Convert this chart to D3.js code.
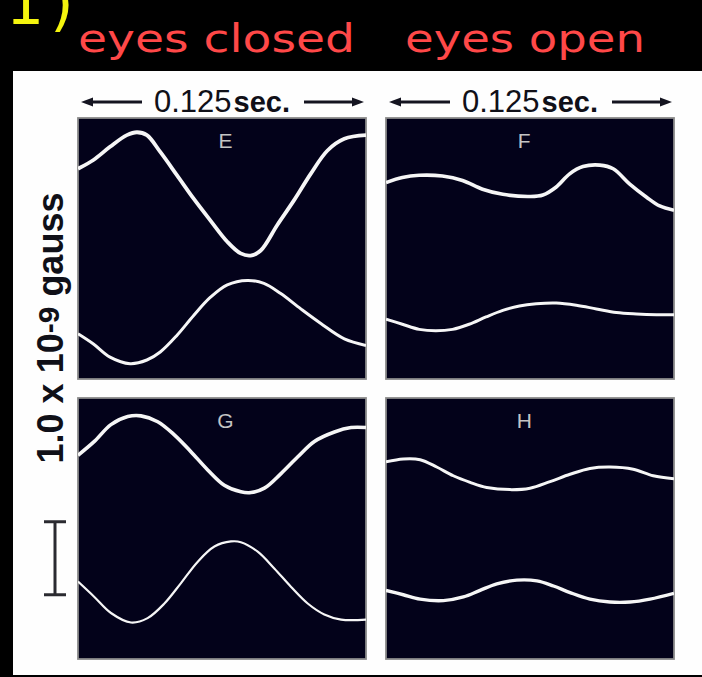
<!DOCTYPE html>
<html>
<head>
<meta charset="utf-8">
<script src="https://cdn.jsdelivr.net/npm/d3@7"></script>
<style>
  html, body { margin: 0; padding: 0; background: #000; }
  svg { display: block; }
</style>
</head>
<body>
<svg id="chart" width="702" height="677"></svg>
<script>
// Magnetoencephalogram sweeps: field in units of 1.0 x 10^-9 gauss, time in ms (one sweep = 125 ms)
const conditions = ["eyes closed", "eyes open"];
const panelLetters = ["E", "F", "G", "H"];
const sweepValue = "0.125";
const sweepUnit = "sec.";
const axisLabel = ["1.0 x 10", "-9", " gauss"];
const figTag = "1)";

// [time ms, field] pairs, two traces per panel
const traceE1 = [[0,2.88],[6.7,3.00],[13.9,3.18],[21.2,3.34],[25.6,3.38],[29.9,3.34],[35.7,3.11],[43.0,2.79],[50.2,2.47],[57.5,2.17],[64.8,1.88],[70.6,1.72],[74.9,1.69],[79.3,1.76],[86.5,2.11],[93.8,2.45],[101.0,2.81],[108.3,3.13],[115.6,3.29],[125,3.34]];
const traceE2 = [[0,0.62],[6.7,0.48],[13.9,0.30],[22.6,0.21],[29.9,0.26],[35.7,0.37],[43.0,0.60],[50.2,0.87],[57.5,1.12],[64.8,1.29],[73.5,1.35],[80.7,1.31],[88.0,1.17],[96.7,0.96],[105.4,0.76],[115.6,0.55],[125,0.46]];
const traceF1 = [[0,2.69],[7.1,2.76],[14.4,2.79],[24.5,2.78],[33.2,2.72],[41.9,2.60],[50.7,2.53],[62.3,2.50],[68.1,2.52],[73.9,2.63],[79.7,2.81],[85.5,2.91],[92.8,2.93],[98.6,2.88],[105.8,2.67],[113.1,2.49],[118.8,2.37],[125,2.31]];
const traceF2 = [[0,0.82],[7.1,0.75],[14.4,0.68],[21.6,0.66],[28.9,0.68],[36.1,0.75],[43.4,0.85],[50.7,0.94],[57.9,1.00],[65.2,1.03],[73.9,1.04],[82.6,1.01],[91.3,0.96],[100.0,0.91],[108.7,0.89],[117.4,0.88],[125,0.88]];
const traceG1 = [[0,2.79],[7.1,2.98],[14.3,3.21],[21.6,3.32],[27.3,3.33],[34.6,3.25],[41.8,3.07],[49.0,2.84],[56.3,2.59],[63.5,2.38],[70.7,2.29],[75.1,2.28],[80.9,2.34],[88.1,2.54],[95.4,2.77],[102.6,2.98],[111.3,3.11],[118.5,3.17],[125,3.17]];
const traceG2 = [[0,1.06],[7.1,0.85],[14.3,0.63],[23.0,0.50],[30.2,0.56],[37.5,0.76],[44.7,1.04],[51.9,1.33],[59.2,1.54],[66.4,1.61],[70.7,1.60],[78.0,1.47],[85.2,1.24],[92.4,0.99],[99.7,0.76],[106.9,0.61],[114.2,0.54],[125,0.54]];
const traceH1 = [[0,2.70],[7.5,2.74],[14.8,2.73],[22.0,2.63],[29.2,2.51],[36.5,2.42],[43.7,2.35],[53.8,2.32],[62.5,2.34],[71.2,2.43],[79.9,2.53],[88.5,2.61],[97.2,2.63],[107.3,2.60],[116.0,2.51],[125,2.47]];
const traceH2 = [[0,0.94],[7.5,0.88],[14.8,0.82],[24.9,0.80],[33.6,0.85],[40.8,0.94],[48.1,1.03],[56.8,1.08],[65.5,1.07],[72.7,1.00],[79.9,0.91],[88.5,0.82],[97.2,0.78],[105.9,0.78],[114.6,0.82],[125,0.90]];

const scaleBarBase = 0.88;   // field value at the lower end of the calibration bar
const scaleBarSize = 1.0;    // 1.0 x 10^-9 gauss
const sweepMs = 125;
const fieldMax = 3.575;

const panels = [
  { letter: panelLetters[0], col: 0, row: 0, traces: [traceE1, traceE2], widths: [3.8, 3.0], labelT: 64 },
  { letter: panelLetters[1], col: 1, row: 0, traces: [traceF1, traceF2], widths: [3.6, 3.0], labelT: 60 },
  { letter: panelLetters[2], col: 0, row: 1, traces: [traceG1, traceG2], widths: [3.6, 2.2], labelT: 64 },
  { letter: panelLetters[3], col: 1, row: 1, traces: [traceH1, traceH2], widths: [3.0, 3.4], labelT: 60 }
];

const svg = d3.select("#chart");
const W = 702, H = 677;

// page: black slide with the white figure sheet
svg.append("rect").attr("width", W).attr("height", H).attr("fill", "#000");
svg.append("rect").attr("x", 13).attr("y", 71).attr("width", W - 13).attr("height", 604).attr("fill", "#fefefe");

// slide headings
svg.append("text")
  .attr("x", 6).attr("y", 24)
  .attr("font-family", "DejaVu Sans, sans-serif")
  .attr("font-size", 60).attr("letter-spacing", 6)
  .attr("fill", "#f4f40e")
  .text(figTag);

const headX = [78, 405], headLen = [277, 240];
svg.selectAll("text.cond").data(conditions).join("text")
  .attr("class", "cond")
  .attr("x", (d, i) => headX[i]).attr("y", 52)
  .attr("font-family", "DejaVu Sans, sans-serif")
  .attr("font-size", 39)
  .attr("textLength", (d, i) => headLen[i])
  .attr("lengthAdjust", "spacingAndGlyphs")
  .attr("fill", "#ff4848")
  .text(d => d);

// panel grid
const colX = [78, 386], rowY = [118, 398];
const pw = 288, ph = 261;
const x = d3.scaleLinear().domain([0, sweepMs]).range([0, pw]);
const y = d3.scaleLinear().domain([0, fieldMax]).range([ph, 0]);
const line = d3.line().x(d => x(d[0])).y(d => y(d[1])).curve(d3.curveCatmullRom.alpha(0.5));

const defs = svg.append("defs");
defs.append("clipPath").attr("id", "panel-clip")
  .append("rect").attr("width", pw).attr("height", ph);

panels.forEach(p => {
  const g = svg.append("g").attr("transform", `translate(${colX[p.col]},${rowY[p.row]})`);
  g.append("rect").attr("width", pw).attr("height", ph)
    .attr("fill", "#03021a").attr("stroke", "#8a8a8a").attr("stroke-width", 1.8);
  g.append("text")
    .attr("x", x(p.labelT)).attr("y", 30)
    .attr("text-anchor", "middle")
    .attr("font-family", "Liberation Sans, Arial, sans-serif")
    .attr("font-size", 21)
    .attr("fill", "#c4c4c4")
    .text(p.letter);
  const tg = g.append("g").attr("clip-path", "url(#panel-clip)");
  p.traces.forEach((tr, i) => {
    tg.append("path").datum(tr)
      .attr("d", line)
      .attr("fill", "none")
      .attr("stroke", "#f6f6f6")
      .attr("stroke-width", p.widths[i])
      .attr("stroke-linecap", "butt");
  });
});

// sweep duration markers above each column
colX.forEach(cx => {
  const g = svg.append("g").attr("transform", `translate(${cx},0)`);
  const ay = 102;
  const x0 = x(0), x1 = x(sweepMs), mid = (x0 + x1) / 2;
  // left arrow
  g.append("line").attr("x1", x0 + 10).attr("x2", x0 + 64).attr("y1", ay).attr("y2", ay)
    .attr("stroke", "#141420").attr("stroke-width", 3);
  g.append("path").attr("d", `M${x0 + 3},${ay} L${x0 + 15},${ay - 4.5} L${x0 + 15},${ay + 4.5} Z`).attr("fill", "#141420");
  // right arrow
  g.append("line").attr("x1", x1 - 62).attr("x2", x1 - 10).attr("y1", ay).attr("y2", ay)
    .attr("stroke", "#141420").attr("stroke-width", 3);
  g.append("path").attr("d", `M${x1 - 2},${ay} L${x1 - 14},${ay - 4.5} L${x1 - 14},${ay + 4.5} Z`).attr("fill", "#141420");
  const t = g.append("text")
    .attr("x", mid).attr("y", 112)
    .attr("text-anchor", "middle")
    .attr("font-family", "Liberation Sans, Arial, sans-serif")
    .attr("font-size", 31)
    .attr("fill", "#101018");
  t.append("tspan").text(sweepValue);
  t.append("tspan").attr("dx", 2).attr("font-weight", "bold").attr("font-size", 29).text(sweepUnit);
});

// vertical calibration label and bar
const lab = svg.append("text")
  .attr("transform", `translate(63,328) rotate(-90)`)
  .attr("text-anchor", "middle")
  .attr("font-family", "Liberation Sans, Arial, sans-serif")
  .attr("font-weight", "bold")
  .attr("font-size", 36)
  .attr("fill", "#101018");
lab.append("tspan").text(axisLabel[0]);
lab.append("tspan").attr("font-size", 30).attr("dy", -4).text(axisLabel[1]);
lab.append("tspan").attr("dy", 4).text(axisLabel[2]);

const barG = svg.append("g").attr("transform", `translate(55,${rowY[1]})`);
const yb0 = y(scaleBarBase), yb1 = y(scaleBarBase + scaleBarSize);
barG.append("line").attr("x1", 0).attr("x2", 0).attr("y1", yb0).attr("y2", yb1)
  .attr("stroke", "#2a2a30").attr("stroke-width", 3);
[yb0, yb1].forEach(v => {
  barG.append("line").attr("x1", -11).attr("x2", 11).attr("y1", v).attr("y2", v)
    .attr("stroke", "#2a2a30").attr("stroke-width", 3);
});
</script>
</body>
</html>
